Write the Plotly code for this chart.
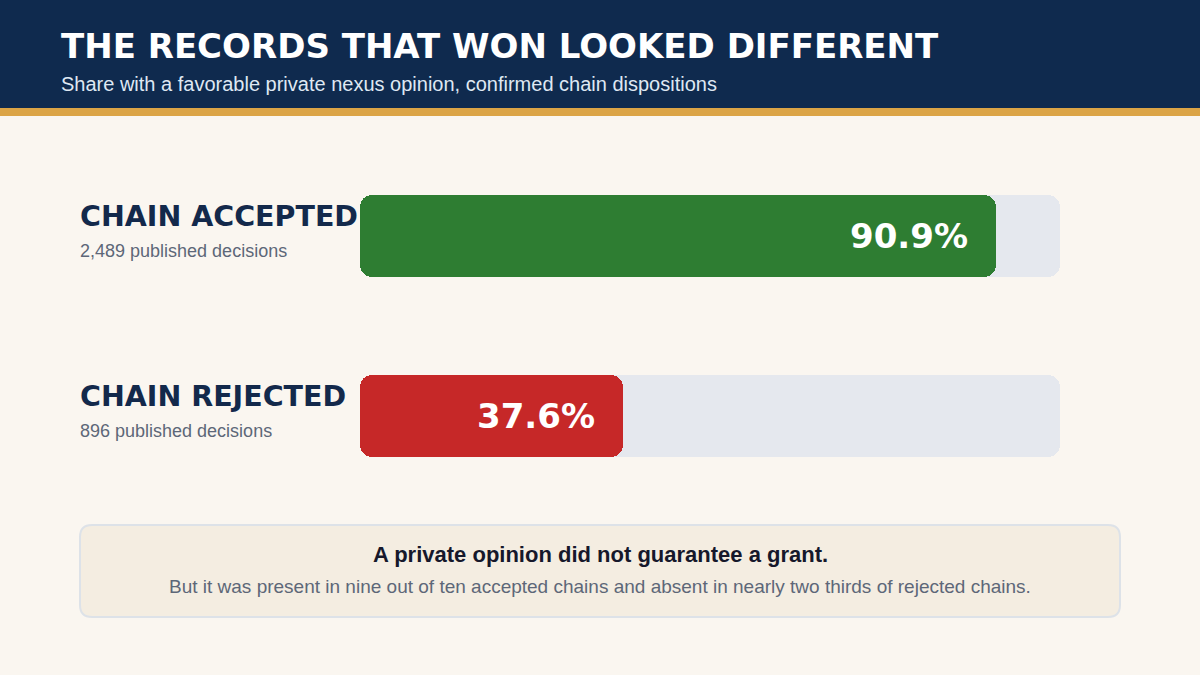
import plotly.graph_objects as go

# ---- data ----
categories = ["CHAIN ACCEPTED", "CHAIN REJECTED"]
shares = [90.9, 37.6]
decisions = ["2,489 published decisions", "896 published decisions"]
bar_colors = ["#2e7d32", "#c62828"]
track_max = [100, 100]

title = "THE RECORDS THAT WON LOOKED DIFFERENT"
subtitle = "Share with a favorable private nexus opinion, confirmed chain dispositions"
callout_head = "A private opinion did not guarantee a grant."
callout_body = "But it was present in nine out of ten accepted chains and absent in nearly two thirds of rejected chains."

W, H = 1200, 675
BG = "#faf6f0"
NAVY = "#0f2a4e"
GOLD = "#dba446"
TRACK = "#e5e8ee"
HEAVY = "DejaVu Sans, Arial Black, sans-serif"
SANS = "Liberation Sans, Arial, sans-serif"
BW = 0.4556
R = 12


def bar(vals, colors):
    return go.Bar(y=categories, x=vals, base=[0] * len(vals), orientation="h",
                  marker=dict(color=colors, cornerradius=R, line=dict(width=0)),
                  width=BW, hoverinfo="skip", showlegend=False)


fig = go.Figure()
fig.add_trace(bar(track_max, [TRACK, TRACK]))
fig.add_trace(bar(shares, bar_colors))


def px_x(p):
    return p / W


def px_y(p):
    return 1 - p / H


shapes = [
    dict(type="rect", xref="paper", yref="paper", x0=0, x1=1, y0=px_y(108), y1=1,
         fillcolor=NAVY, line=dict(width=0), layer="below"),
    dict(type="rect", xref="paper", yref="paper", x0=0, x1=1, y0=px_y(116), y1=px_y(108),
         fillcolor=GOLD, line=dict(width=0), layer="below"),
]

# rounded callout box
x0, x1, y0, y1, r = 80, 1120, 525, 617, 12
def P(x, y):
    return f"{x/W:.5f},{1 - y/H:.5f}"
path = (f"M {P(x0 + r, y0)} L {P(x1 - r, y0)} Q {P(x1, y0)} {P(x1, y0 + r)} "
        f"L {P(x1, y1 - r)} Q {P(x1, y1)} {P(x1 - r, y1)} L {P(x0 + r, y1)} "
        f"Q {P(x0, y1)} {P(x0, y1 - r)} L {P(x0, y0 + r)} Q {P(x0, y0)} {P(x0 + r, y0)} Z")
shapes.append(dict(type="path", xref="paper", yref="paper", path=path,
                   fillcolor="#f4ede1", line=dict(color="#dde2e8", width=2), layer="below"))

annotations = [
    dict(text=f"<b>{title}</b>", xref="paper", yref="paper", x=px_x(59), y=px_y(46),
         xanchor="left", yanchor="middle", showarrow=False,
         font=dict(family=HEAVY, size=34, color="white")),
    dict(text=subtitle, xref="paper", yref="paper", x=px_x(59), y=px_y(84),
         xanchor="left", yanchor="middle", showarrow=False,
         font=dict(family=SANS, size=20, color="#dfe8f3")),
    dict(text=f"<b>{callout_head}</b>", xref="paper", yref="paper", x=0.5, y=px_y(554),
         xanchor="center", yanchor="middle", showarrow=False,
         font=dict(family=SANS, size=22, color="#16182b")),
    dict(text=callout_body, xref="paper", yref="paper", x=0.5, y=px_y(586),
         xanchor="center", yanchor="middle", showarrow=False,
         font=dict(family=SANS, size=19, color="#5d6778")),
]

for cat, val, dec in zip(categories, shares, decisions):
    annotations.append(dict(text=f"<b>{cat}</b>", xref="paper", yref="y", x=px_x(78), y=cat,
                            yshift=20, xanchor="left", yanchor="middle", showarrow=False,
                            font=dict(family=HEAVY, size=28.5, color="#13294b")))
    annotations.append(dict(text=dec, xref="paper", yref="y", x=px_x(78), y=cat,
                            yshift=-15, xanchor="left", yanchor="middle", showarrow=False,
                            font=dict(family=SANS, size=18, color="#5d6778")))
    annotations.append(dict(text=f"<b>{val:.1f}%</b>", xref="x", yref="y", x=val, y=cat,
                            xshift=-26, xanchor="right", yanchor="middle", showarrow=False,
                            font=dict(family=HEAVY, size=34, color="white")))

fig.update_layout(
    width=W, height=H, margin=dict(l=0, r=0, t=0, b=0),
    paper_bgcolor=BG, plot_bgcolor="rgba(0,0,0,0)",
    barmode="overlay", bargap=0,
    xaxis=dict(domain=[360 / W, 1060 / W], range=[0, 100], visible=False, fixedrange=True),
    yaxis=dict(domain=[px_y(506), px_y(146)], type="category", categoryorder="array",
               categoryarray=categories, range=[1.5, -0.5], visible=False, fixedrange=True),
    shapes=shapes, annotations=annotations,
)

fig.write_html("out.html", config={"displayModeBar": False},
               post_script="document.body.style.margin='0';document.body.style.overflow='hidden';")
